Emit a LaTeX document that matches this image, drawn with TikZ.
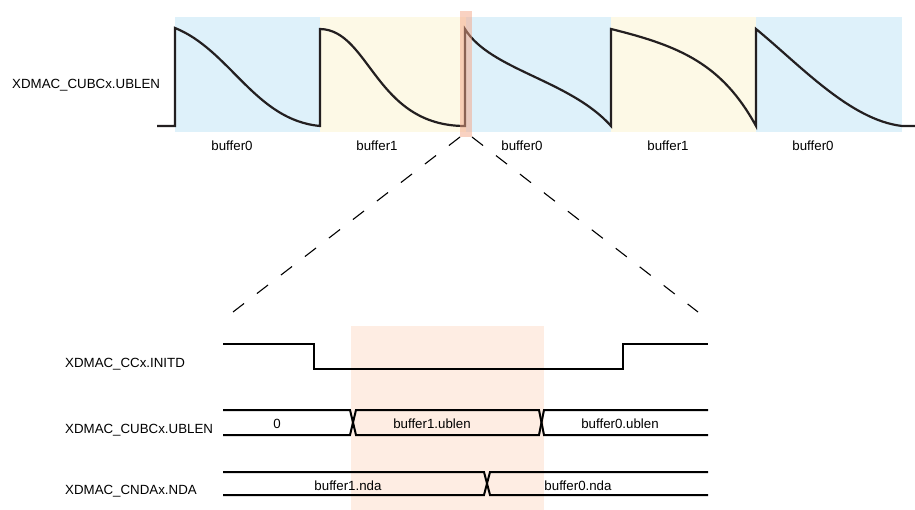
\documentclass[tikz,border=0pt]{standalone}
\usepackage{fontspec}
\setmainfont{Liberation Sans}
\definecolor{bblue}{RGB}{222,241,250}
\definecolor{byellow}{RGB}{253,249,230}
\definecolor{strip}{RGB}{244,165,134}
\definecolor{zoomfill}{RGB}{254,237,227}
\definecolor{wave}{RGB}{35,31,32}
\begin{document}
\begin{tikzpicture}[x=1pt,y=-1pt,
  lbl/.style={inner sep=0pt,font=\fontsize{13.3}{15}\selectfont},
  wavepath/.style={draw=wave,line width=2.2pt,line join=miter},
  sig/.style={draw=black,line width=2pt},
  zoomline/.style={draw=black,line width=1.1pt,dash pattern=on 14pt off 16.3pt}]
\useasboundingbox (0,0) rectangle (915,510);
% top background areas
\fill[bblue] (175,17) rectangle (320,132);
\fill[byellow] (320,17) rectangle (466,132);
\fill[bblue] (466,17) rectangle (611,132);
\fill[byellow] (611,17) rectangle (756,132);
\fill[bblue] (756,17) rectangle (902,132);
% top waveform
\coordinate (w0) at (157,126);
\coordinate (w1) at (175,126);
\coordinate (w2) at (175,28);
\coordinate (w3) at (320,126);
\coordinate (w4) at (320,29);
\coordinate (w5) at (465,126);
\coordinate (w6) at (465,29);
\coordinate (w7) at (611,126);
\coordinate (w8) at (611,29);
\coordinate (w9) at (756,126);
\coordinate (w10) at (756,29);
\coordinate (w11) at (902,126);
\coordinate (w12) at (915,126);
\draw[wavepath] (w0) -- (w1) -- (w2)
  .. controls (230,50) and (255,120) .. (w3) -- (w4)
  .. controls (370,30) and (375,126) .. (w5) -- (w6)
  .. controls (490,70) and (570,80) .. (w7) -- (w8)
  .. controls (680,46) and (722,64) .. (w9) -- (w10)
  .. controls (800,65) and (850,120) .. (w11) -- (w12);
% highlight strip
\fill[strip,opacity=0.5] (460,11) rectangle (472,137);
\coordinate (sL) at (460,137);
\coordinate (sR) at (472,137);
\coordinate (zL) at (233,312);
\coordinate (zR) at (698,312);
\draw[zoomline] (sL) -- (zL);
\draw[zoomline] (sR) -- (zR);
% top labels
\node[lbl,anchor=west] (topname) at (12,85) {XDMAC\_CUBCx.UBLEN};
\node[lbl] (b0a) at (232,146) {buffer0};
\node[lbl] (b1a) at (377,146) {buffer1};
\node[lbl] (b0b) at (522,146) {buffer0};
\node[lbl] (b1b) at (668,146) {buffer1};
\node[lbl] (b0c) at (813,146) {buffer0};
% bottom zoom area
\fill[zoomfill] (351,326) rectangle (544,510);
% INITD
\coordinate (i0) at (223,344);
\coordinate (i1) at (314,344);
\coordinate (i2) at (314,369);
\coordinate (i3) at (623,369);
\coordinate (i4) at (623,344);
\coordinate (i5) at (708,344);
\draw[sig] (i0) -- (i1) -- (i2) -- (i3) -- (i4) -- (i5);
% UBLEN bus
\draw[sig] (223,410) -- (350,410) -- (356,435) -- (539,435) -- (544,410) -- (708,410);
\draw[sig] (223,435) -- (350,435) -- (356,410) -- (539,410) -- (544,435) -- (708,435);
% NDA bus
\draw[sig] (223,472) -- (484,472) -- (490,495) -- (708,495);
\draw[sig] (223,495) -- (484,495) -- (490,472) -- (708,472);
% bottom labels
\node[lbl,anchor=west] (n1) at (65,364) {XDMAC\_CCx.INITD};
\node[lbl,anchor=west] (n2) at (65,430) {XDMAC\_CUBCx.UBLEN};
\node[lbl,anchor=west] (n3) at (65,491) {XDMAC\_CNDAx.NDA};
\node[lbl] (v0) at (277,424) {0};
\node[lbl] (v1) at (432,424) {buffer1.ublen};
\node[lbl] (v2) at (620,424) {buffer0.ublen};
\node[lbl] (v3) at (348,486) {buffer1.nda};
\node[lbl] (v4) at (578,486) {buffer0.nda};
\end{tikzpicture}
\end{document}
